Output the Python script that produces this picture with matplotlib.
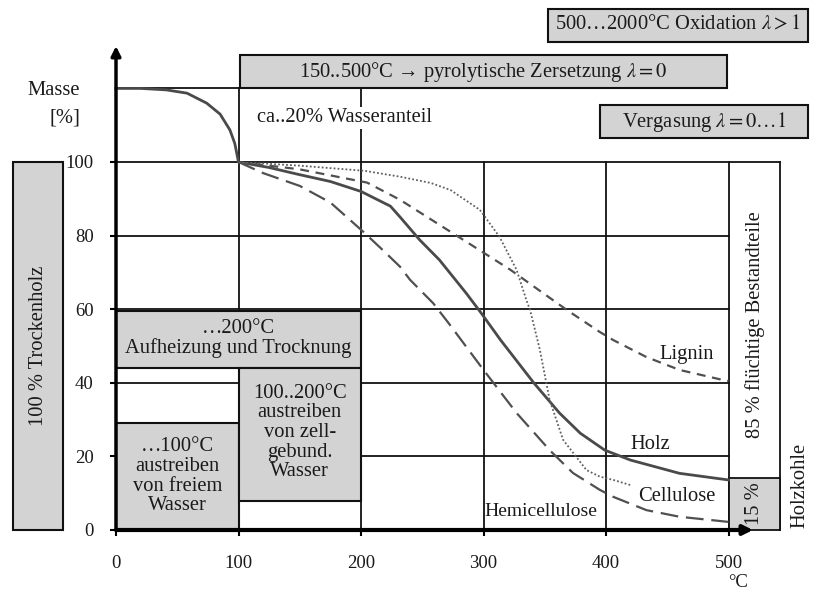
import matplotlib
matplotlib.use("Agg")
import matplotlib.pyplot as plt
from matplotlib.patches import Rectangle

plt.rcParams["font.family"] = ["Liberation Serif", "DejaVu Serif"]

# thermal decomposition curves (temperature in °C, mass in %)
holz_t = [0, 20, 41, 58, 74, 85, 93, 97, 100, 125, 148, 175, 200, 224, 232, 248, 264, 286, 298, 314,
          341, 362, 379, 399, 420, 460, 500]
holz_m = [120, 120, 119.6, 118.7, 116, 113, 108.7, 105, 100, 98.5, 96.7, 94.7, 92, 88, 85, 78.8, 73.4,
          64.3, 59, 51.6, 40, 31.8, 26.3, 21.7, 19, 15.4, 13.6]

hemi_t = [100, 120, 150, 175, 202, 218, 232, 240, 259, 272, 300, 327, 354, 373, 395, 406, 433, 460, 500]
hemi_m = [100, 97, 93.5, 89, 81, 76, 71.5, 68, 61.6, 56, 43.5, 31.8, 21.7, 15.5, 10.9, 9, 5.4, 3.6, 2.2]

lignin_t = [100, 150, 205, 232, 259, 297, 322, 346, 368, 395, 406, 433, 460, 495, 500]
lignin_m = [100, 98, 94.4, 89.7, 84, 76, 70.7, 65, 59.8, 53.8, 51.6, 47, 43.5, 40.8, 40.5]

cell_t = [100, 150, 203, 232, 257, 273, 297, 313, 327, 335, 338, 346, 354, 365, 384, 395, 406, 420]
cell_m = [100, 99, 97.6, 96, 94.3, 92.4, 87, 79.7, 70.7, 62.5, 59.8, 49, 35.3, 24.5, 16.3, 14.5, 13.6, 12.2]

x_ticks = [0, 100, 200, 300, 400, 500]
y_ticks = [0, 20, 40, 60, 80, 100]

TXT = "#1a1a1a"
GRAY = "#d3d3d3"
LINE = "#505050"

fig = plt.figure(figsize=(8.18, 5.94), dpi=100)
ax = fig.add_axes([116 / 818, 64 / 594, 612.5 / 818, 368 / 594])
ax.set_xlim(0, 500)
ax.set_ylim(0, 100)
for s in ax.spines.values():
    s.set_visible(False)


def box(x0, x1, y0, y1, fc=GRAY, lw=1.5, z=3):
    ax.add_patch(Rectangle((x0, y0), x1 - x0, y1 - y0, facecolor=fc, edgecolor="#111111",
                           lw=lw, clip_on=False, zorder=z))


# grid
for y in [20, 40, 60, 80]:
    ax.plot([0, 500], [y, y], color="#111111", lw=1.3, zorder=1, clip_on=False)
ax.plot([0, 542], [100, 100], color="#111111", lw=1.3, zorder=1, clip_on=False)
ax.plot([0, 100], [120, 120], color="#111111", lw=1.3, zorder=1, clip_on=False)
for x, top in [(100, 120), (200, 120), (300, 100), (400, 100), (500, 100), (542, 100)]:
    ax.plot([x, x], [0, top], color="#111111", lw=1.3, zorder=1, clip_on=False)

# right panel
box(500, 542, 0, 14, fc=GRAY, lw=1.3, z=2)

# boxes inside the plot
box(0, 200, 44, 59.5)
box(0, 100, 0, 29.2)
box(100, 200, 8, 44)
box(-84, -43.3, 0, 100)
box(101, 499, 120, 129)
box(395, 565, 106.5, 115.5)
box(352.6, 565, 132.6, 141.7)

fs = 14.8
ax.text(100, 52, "…200°C\nAufheizung und Trocknung", ha="center", va="center", fontsize=fs,
        color=TXT, zorder=5, linespacing=1.05)
ax.text(50, 14.6, "…100°C\naustreiben\nvon freiem\nWasser", ha="center", va="center", fontsize=fs,
        color=TXT, zorder=5, linespacing=1.05)
ax.text(150, 26.5, "100..200°C\naustreiben\nvon zell-\ngebund.\nWasser", ha="center", va="center",
        fontsize=fs, color=TXT, zorder=5, linespacing=1.05)
ax.text(-63.6, 50, "100 % Trockenholz", rotation=90, ha="center", va="center", fontsize=fs,
        color=TXT, zorder=5, clip_on=False)
ax.text(300, 124.5, "150..500°C → pyrolytische Zersetzung $\\lambda = 0$", ha="center", va="center",
        fontsize=fs, color=TXT, zorder=5, math_fontfamily="stix")
ax.text(480, 111, "Vergasung $\\lambda = 0 \\ldots 1$", ha="center", va="center", fontsize=fs,
        color=TXT, zorder=5, math_fontfamily="stix")
ax.text(458.8, 137.2, "500…2000°C Oxidation $\\lambda > 1$", ha="center", va="center", fontsize=fs,
        color=TXT, zorder=5, math_fontfamily="stix")
ax.text(115, 112, "ca..20% Wasseranteil", ha="left", va="center", fontsize=fs, color=TXT, zorder=5,
        bbox=dict(facecolor="white", edgecolor="none", pad=1))
ax.text(-51, 119.5, "Masse", ha="center", va="center", fontsize=fs, color=TXT, clip_on=False)
ax.text(-42, 112, "[%]", ha="center", va="center", fontsize=fs, color=TXT, clip_on=False)

ax.text(521.5, 55.7, "85 % flüchtige Bestandteile", rotation=90, ha="center", va="center",
        fontsize=fs, color=TXT, zorder=5)
ax.text(521.5, 7.3, "15 %", rotation=90, ha="center", va="center", fontsize=fs, color=TXT, zorder=5)
ax.text(558, 12.2, "Holzkohle", rotation=90, ha="center", va="center", fontsize=fs, color=TXT)

# curves
ax.plot(holz_t, holz_m, color="#4a4a4a", lw=2.0, zorder=4, clip_on=False)
ax.plot(hemi_t, hemi_m, color=LINE, lw=1.6, ls=(0, (8, 3.5)), zorder=4)
ax.plot(lignin_t, lignin_m, color=LINE, lw=1.6, ls=(0, (4, 3)), zorder=4)
ax.plot(cell_t, cell_m, color="#606060", lw=1.3, ls=(0, (1, 1.2)), zorder=4)

ax.text(466, 47.6, "Lignin", ha="center", va="center", fontsize=fs, color=TXT, zorder=5)
ax.text(436, 23.1, "Holz", ha="center", va="center", fontsize=fs, color=TXT, zorder=5)
ax.text(458, 9, "Cellulose", ha="center", va="center", fontsize=fs, color=TXT, zorder=5)
ax.text(301, 4.9, "Hemicellulose", ha="left", va="center", fontsize=fs - 0.8, color=TXT, zorder=5)

# axes with arrows
ax.annotate("", xy=(520, 0), xytext=(0, 0), annotation_clip=False, zorder=6,
            arrowprops=dict(arrowstyle="-|>", color="black", lw=3, mutation_scale=14,
                            shrinkA=0, shrinkB=0))
ax.annotate("", xy=(0, 131.5), xytext=(0, 0), annotation_clip=False, zorder=6,
            arrowprops=dict(arrowstyle="-|>", color="black", lw=2.5, mutation_scale=14,
                            shrinkA=0, shrinkB=0))

ax.set_xticks(x_ticks)
ax.set_yticks(y_ticks)
ax.tick_params(axis="both", direction="out", length=4, width=1.5, labelsize=13.5, labelcolor=TXT)
ax.tick_params(axis="x", pad=14)
ax.tick_params(axis="y", pad=12)
ax.text(508, -14.3, "°C", ha="center", va="center", fontsize=13.5, color=TXT, clip_on=False)

fig.savefig("out.png", dpi=100)
